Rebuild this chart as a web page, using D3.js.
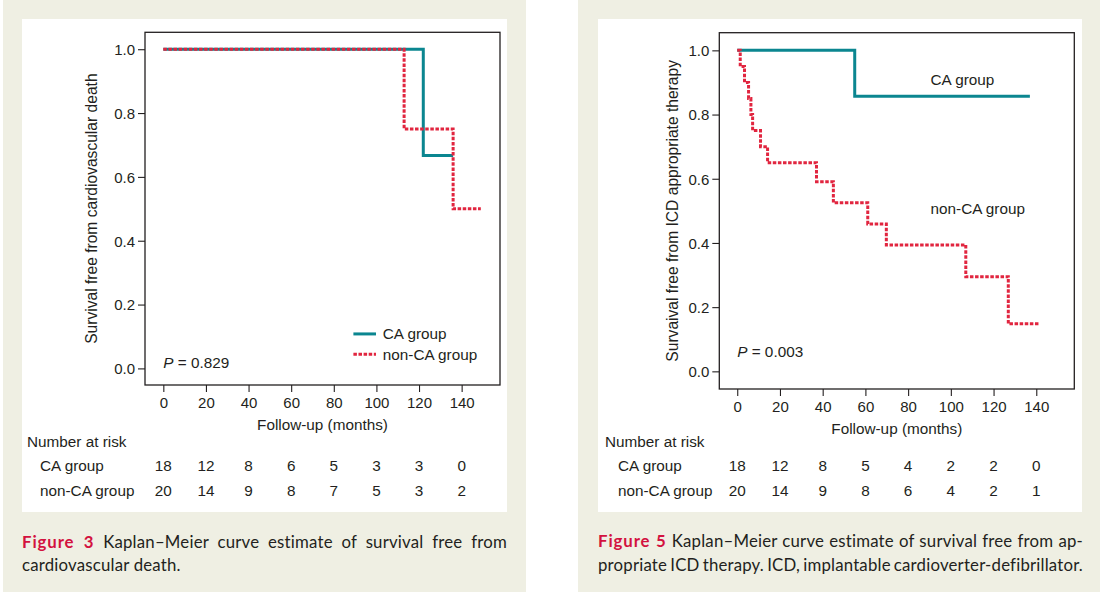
<!DOCTYPE html>
<html>
<head>
<meta charset="utf-8">
<script src="https://cdn.jsdelivr.net/npm/d3@7"></script>
<style>
  html, body { margin: 0; padding: 0; background: #ffffff; }
  svg { display: block; }
</style>
</head>
<body>
<svg id="chart" width="1105" height="592"></svg>
<script>
// ---------------- DATA ----------------
const xTicks = [0, 20, 40, 60, 80, 100, 120, 140];
const yTicks = [0.0, 0.2, 0.4, 0.6, 0.8, 1.0];
const groups = ["CA group", "non-CA group"];

// Figure 3: survival free from cardiovascular death
const fig3CATimes = [0, 122, 136];
const fig3CASurv = [1.0, 0.667, 0.667];
const fig3NonCATimes = [0, 113, 136, 149];
const fig3NonCASurv = [1.0, 0.75, 0.5, 0.5];
const fig3RiskCA = [18, 12, 8, 6, 5, 3, 3, 0];
const fig3RiskNonCA = [20, 14, 9, 8, 7, 5, 3, 2];

// Figure 5: survival free from ICD appropriate therapy
const fig5CATimes = [0, 55, 137];
const fig5CASurv = [1.0, 0.857, 0.857];
const fig5NonCATimes = [0, 1.4, 3.4, 5.3, 6.4, 7.2, 10.9, 14.2, 37.1, 45.0, 61.1, 69.8, 107.0, 126.9, 141.3];
const fig5NonCASurv = [1.0, 0.95, 0.90, 0.85, 0.80, 0.75, 0.70, 0.65, 0.591, 0.525, 0.459, 0.394, 0.295, 0.148, 0.148];
const fig5RiskCA = [18, 12, 8, 5, 4, 2, 2, 0];
const fig5RiskNonCA = [20, 14, 9, 8, 6, 4, 2, 1];

// ---------------- STYLE ----------------
const BEIGE = "#efefe3";
const INK = "#231f20";
const TEAL = "#0b8690";
const RED = "#e1253f";
const CAPRED = "#d3123f";
const FONT = "'Liberation Sans', Arial, Helvetica, sans-serif";
const CAPFONT = "Lato, 'Open Sans', sans-serif";

const svg = d3.select("#chart");

// cards
svg.append("rect").attr("x", 3).attr("y", 0).attr("width", 523).attr("height", 592).attr("fill", BEIGE);
svg.append("rect").attr("x", 578).attr("y", 0).attr("width", 522).attr("height", 592).attr("fill", BEIGE);
svg.append("rect").attr("x", 22).attr("y", 19).attr("width", 485).attr("height", 493).attr("fill", "#fff");
svg.append("rect").attr("x", 598).attr("y", 19).attr("width", 484).attr("height", 493).attr("fill", "#fff");

function panel(cfg) {
  const g = svg.append("g");
  const x = d3.scaleLinear().domain(cfg.xDomain).range([cfg.frame.x0, cfg.frame.x1]);
  const y = d3.scaleLinear().domain(cfg.yDomain).range([cfg.frame.y1, cfg.frame.y0]);

  // axes
  const ax = g.append("g").attr("transform", `translate(0,${cfg.frame.y1})`)
    .call(d3.axisBottom(x).tickValues(xTicks).tickSize(7).tickPadding(5).tickFormat(d3.format("d")));
  const ay = g.append("g").attr("transform", `translate(${cfg.frame.x0},0)`)
    .call(d3.axisLeft(y).tickValues(yTicks).tickSize(7).tickPadding(3).tickFormat(d3.format(".1f")));
  [ax, ay].forEach(a => {
    a.select(".domain").remove();
    a.selectAll("line").attr("stroke", INK).attr("stroke-width", 1.1);
    a.selectAll("text").attr("fill", INK).attr("font-family", FONT).attr("font-size", 15);
  });
  ay.selectAll("text").attr("dy", "0.36em");

  // frame
  g.append("rect").attr("x", cfg.frame.x0).attr("y", cfg.frame.y0)
    .attr("width", cfg.frame.x1 - cfg.frame.x0).attr("height", cfg.frame.y1 - cfg.frame.y0)
    .attr("fill", "none").attr("stroke", INK).attr("stroke-width", 1.3);

  const line = d3.line().x(d => x(d[0])).y(d => y(d[1])).curve(d3.curveStepAfter);
  const caData = d3.zip(cfg.caT, cfg.caS);
  const nonData = d3.zip(cfg.nonT, cfg.nonS);
  g.append("path").attr("d", line(caData)).attr("fill", "none").attr("stroke", TEAL).attr("stroke-width", 3);
  g.append("path").attr("d", line(nonData)).attr("fill", "none").attr("stroke", RED).attr("stroke-width", 3)
    .attr("stroke-dasharray", "3.5,1.6");

  // axis titles
  g.append("text").attr("x", (cfg.frame.x0 + cfg.frame.x1) / 2).attr("y", cfg.xTitleY)
    .attr("text-anchor", "middle").attr("font-family", FONT).attr("font-size", 15.3).attr("fill", INK)
    .text("Follow-up (months)");
  g.append("text").attr("transform", `translate(${cfg.yTitleX},${(cfg.frame.y0 + cfg.frame.y1) / 2}) rotate(-90)`)
    .attr("text-anchor", "middle").attr("font-family", FONT).attr("font-size", 15.6).attr("fill", INK)
    .text(cfg.yTitle);

  // P value
  const p = g.append("text").attr("x", x(cfg.pPos[0])).attr("y", y(cfg.pPos[1]))
    .attr("font-family", FONT).attr("font-size", 15.3).attr("fill", INK);
  p.append("tspan").attr("font-style", "italic").text("P");
  p.append("tspan").text(" = " + cfg.pText);

  // number at risk
  g.append("text").attr("x", cfg.riskX0).attr("y", cfg.riskY[0]).attr("font-family", FONT)
    .attr("font-size", 15.3).attr("fill", INK).text("Number at risk");
  [cfg.riskCA, cfg.riskNon].forEach((row, i) => {
    g.append("text").attr("x", cfg.riskX0 + 13).attr("y", cfg.riskY[i + 1]).attr("font-family", FONT)
      .attr("font-size", 15.3).attr("fill", INK).text(groups[i]);
    g.selectAll(null).data(row).enter().append("text")
      .attr("x", (d, j) => x(xTicks[j])).attr("y", cfg.riskY[i + 1])
      .attr("text-anchor", "middle").attr("font-family", FONT).attr("font-size", 15.3).attr("fill", INK)
      .text(d => d);
  });
  return { g, x, y };
}

// ---------- Figure 3 ----------
const p3 = panel({
  frame: { x0: 145, x1: 500, y0: 32.3, y1: 385 },
  xDomain: [-8.6, 158], yDomain: [-0.052, 1.053],
  caT: fig3CATimes, caS: fig3CASurv, nonT: fig3NonCATimes, nonS: fig3NonCASurv,
  xTitleY: 430, yTitleX: 97,
  yTitle: "Survival free from cardiovascular death",
  pPos: [0, 0.0], pText: "0.829",
  riskX0: 27, riskY: [446.5, 471, 496],
  riskCA: fig3RiskCA, riskNon: fig3RiskNonCA
});
// legend
{
  const lg = p3.g.append("g");
  const lx0 = p3.x(89.2), lx1 = p3.x(99.8), tx = p3.x(103);
  const rows = [[0.108, TEAL, null, groups[0]], [0.044, RED, "3.5,1.6", groups[1]]];
  rows.forEach(r => {
    lg.append("line").attr("x1", lx0).attr("x2", lx1).attr("y1", p3.y(r[0])).attr("y2", p3.y(r[0]))
      .attr("stroke", r[1]).attr("stroke-width", 3).attr("stroke-dasharray", r[2]);
    lg.append("text").attr("x", tx).attr("y", p3.y(r[0])).attr("dy", "0.36em")
      .attr("font-family", FONT).attr("font-size", 15.3).attr("fill", INK).text(r[3]);
  });
}

// ---------- Figure 5 ----------
const p5 = panel({
  frame: { x0: 719.3, x1: 1074.3, y0: 32.7, y1: 389 },
  xDomain: [-8.4, 157.8], yDomain: [-0.055, 1.055],
  caT: fig5CATimes, caS: fig5CASurv, nonT: fig5NonCATimes, nonS: fig5NonCASurv,
  xTitleY: 434, yTitleX: 678,
  yTitle: "Survaival free from ICD appropriate therapy",
  pPos: [0, 0.045], pText: "0.003",
  riskX0: 605, riskY: [447, 470.5, 495.5],
  riskCA: fig5RiskCA, riskNon: fig5RiskNonCA
});
p5.g.append("text").attr("x", p5.x(90.5)).attr("y", p5.y(0.893)).attr("font-family", FONT)
  .attr("font-size", 15.3).attr("fill", INK).text(groups[0]);
p5.g.append("text").attr("x", p5.x(90.5)).attr("y", p5.y(0.49)).attr("font-family", FONT)
  .attr("font-size", 15.3).attr("fill", INK).text(groups[1]);

// ---------- Captions ----------
function caption(x, yy, width, label, rest, justify) {
  const t = svg.append("text").attr("x", x).attr("y", yy).attr("font-family", CAPFONT)
    .attr("font-size", 16.8).attr("fill", INK).attr("letter-spacing", 0.2);
  if (label) {
    t.append("tspan").attr("font-weight", "bold").attr("fill", CAPRED).attr("letter-spacing", 0.9).text(label);
    t.append("tspan").text(" " + rest);
  } else {
    t.text(rest);
  }
  if (justify) {
    const len = t.node().getComputedTextLength();
    const full = (label ? label + " " : "") + rest;
    const spaces = (full.match(/ /g) || []).length;
    if (spaces > 0) t.attr("word-spacing", (width - len) / spaces);
  }
  return t;
}
caption(22, 548, 485, "Figure 3", "Kaplan\u2013Meier curve estimate of survival free from", true);
caption(22, 571, 485, null, "cardiovascular death.", false);
caption(598, 546.5, 485, "Figure 5", "Kaplan\u2013Meier curve estimate of survival free from ap-", true);
caption(598, 570.5, 485, null, "propriate ICD therapy. ICD, implantable cardioverter-defibrillator.", true);
</script>
</body>
</html>
